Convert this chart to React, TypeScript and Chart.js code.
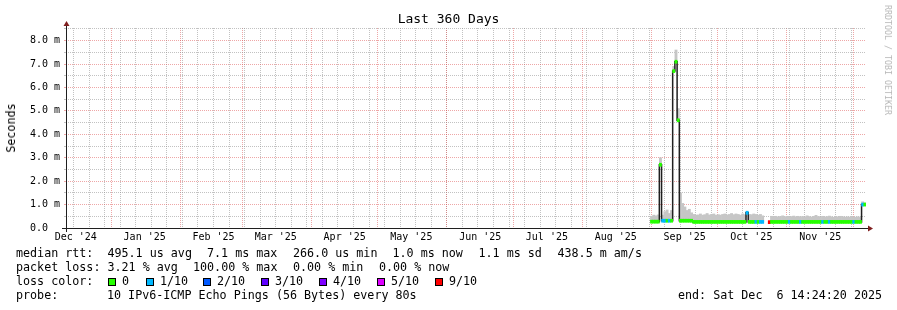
import React, { useEffect, useRef } from "react";
import { Chart, registerables } from "chart.js";

Chart.register(...registerables);

// ---------- texts ----------
const TITLE = "Last 360 Days";
const Y_AXIS_TITLE = "Seconds";
const WATERMARK = "RRDTOOL / TOBI OETIKER";

// ---------- time axis ----------
const END_TIME = "2025-12-06T14:24:20Z";
const RANGE_DAYS = 360;
const DAY_MS = 86400000;
const START_MS = Date.parse(END_TIME) - RANGE_DAYS * DAY_MS;

const MONTH_STARTS = [
  "2024-12-01", "2025-01-01", "2025-02-01", "2025-03-01", "2025-04-01", "2025-05-01", "2025-06-01",
  "2025-07-01", "2025-08-01", "2025-09-01", "2025-10-01", "2025-11-01", "2025-12-01",
];
const MONTH_LABELS = [
  "Dec '24", "Jan '25", "Feb '25", "Mar '25", "Apr '25", "May '25", "Jun '25",
  "Jul '25", "Aug '25", "Sep '25", "Oct '25", "Nov '25", "Dec '25",
];
const LABEL_SHIFT_DAYS = 15;
const FIRST_WEEK_START = "2024-12-15";
const WEEK_DAYS = 7;

// ---------- value axis (milliseconds) ----------
const Y_MAX_MS = 8.54;
const Y_GRID_MS = [0, 0.5, 1, 1.5, 2, 2.5, 3, 3.5, 4, 4.5, 5, 5.5, 6, 6.5, 7, 7.5, 8, 8.5];

// ---------- data (one value per day, from day DATA_START_DAY of the 360-day window) ----------
const DATA_START_DAY = 263;
const MEDIAN_MS = [
  0.27, 0.27, 0.27, 0.27, 2.7, 0.31, 0.31, 0.31, 0.31, 0.31,
  6.7, 7.1, 4.6, 0.31, 0.31, 0.31, 0.31, 0.31, 0.31, 0.26,
  0.26, 0.26, 0.26, 0.26, 0.26, 0.26, 0.26, 0.26, 0.26, 0.26,
  0.26, 0.26, 0.26, 0.26, 0.26, 0.26, 0.26, 0.26, 0.26, 0.26,
  0.26, 0.26, 0.26, 0.65, 0.26, 0.26, 0.26, 0.26, 0.26, 0.26,
  0.26, null, null, 0.25, 0.26, 0.26, 0.26, 0.26, 0.26, 0.26,
  0.26, 0.26, 0.26, 0.26, 0.26, 0.26, 0.26, 0.26, 0.26, 0.26,
  0.26, 0.26, 0.26, 0.26, 0.26, 0.26, 0.26, 0.26, 0.26, 0.26,
  0.26, 0.26, 0.26, 0.26, 0.26, 0.26, 0.26, 0.26, 0.26, 0.26,
  0.26, 0.26, 0.26, 0.26, 0.26, 1.0, 1.0,
];
const LOSS_OF_10 = [
  0, 0, 0, 0, 0, 1, 1, 0, 1, 0,
  0, 0, 0, 0, 0, 0, 0, 0, 0, 0,
  0, 0, 0, 0, 0, 0, 0, 0, 0, 0,
  0, 0, 0, 0, 0, 0, 0, 0, 0, 0,
  0, 0, 0, 1, 0, 0, 0, 1, 0, 1,
  1, null, null, 9, 0, 0, 0, 0, 0, 0,
  0, 0, 1, 0, 0, 0, 0, 1, 0, 0,
  0, 0, 0, 0, 0, 0, 0, 1, 0, 0,
  1, 0, 0, 0, 0, 0, 0, 0, 0, 0,
  0, 1, 0, 0, 0, 1, 0,
];
const SMOKE_MAX_MS = [
  0.5, 0.55, 0.52, 0.56, 3.0, 0.55, 0.7, 0.77, 0.62, 0.75,
  6.9, 7.6, 5.1, 1.5, 1.05, 0.9, 0.75, 0.8, 0.65, 0.58,
  0.55, 0.56, 0.6, 0.55, 0.57, 0.62, 0.56, 0.58, 0.6, 0.55,
  0.57, 0.55, 0.58, 0.6, 0.56, 0.58, 0.62, 0.57, 0.6, 0.58,
  0.55, 0.6, 0.57, 0.72, 0.58, 0.57, 0.6, 0.58, 0.55, 0.58,
  0.52, null, null, null, 0.5, 0.48, 0.5, 0.47, 0.49, 0.52,
  0.48, 0.5, 0.47, 0.49, 0.51, 0.48, 0.5, 0.47, 0.49, 0.48,
  0.52, 0.49, 0.47, 0.5, 0.54, 0.49, 0.48, 0.5, 0.47, 0.49,
  0.51, 0.48, 0.46, 0.49, 0.47, 0.5, 0.48, 0.46, 0.48, 0.47,
  0.49, 0.47, 0.46, 0.48, 0.45, 1.12, 1.08,
];
const MEDIAN_BAND_MS = 0.065;

// ---------- legend ----------
const LOSS_KEYS = [0, 1, 2, 3, 4, 5, 9];
const LOSS_LABELS = ["0", "1/10", "2/10", "3/10", "4/10", "5/10", "9/10"];
const LOSS_COLORS = ["#26ff00", "#00b8ff", "#0059ff", "#5e00ff", "#7e00ff", "#dd00ff", "#ff0000"];
const MEDIAN_STATS = ["median rtt:  495.1 us avg", "7.1 ms max", "266.0 us min", "1.0 ms now", "1.1 ms sd", "438.5 m am/s"];
const LOSS_STATS = ["packet loss: 3.21 % avg", "100.00 % max", "0.00 % min", "0.00 % now"];
const LOSS_COLOR_TITLE = "loss color:";
const PROBE_TITLE = "probe:";
const PROBE_TEXT = "10 IPv6-ICMP Echo Pings (56 Bytes) every 80s";
const END_TEXT = "end: Sat Dec  6 14:24:20 2025";

// ---------- styles ----------
const MONO = "'DejaVu Sans Mono', monospace";
const GRID_MINOR = "rgba(143,143,143,0.55)";
const GRID_MAJOR = "rgba(222,79,79,0.5)";
const AXIS_COLOR = "#1f1f1f";
const ARROW_COLOR = "#801f1f";
const SMOKE_COLOR = "#c6c6c6";
const MEDIAN_LINE_COLOR = "#202020";

const rrdAxesPlugin = {
  id: "rrdAxes",
  afterDatasetsDraw(chart: any) {
    const { ctx, chartArea: a } = chart;
    const x0 = Math.round(a.left);
    const x1 = Math.round(a.right);
    const y0 = Math.round(a.bottom);
    const yt = Math.round(a.top);
    ctx.save();
    ctx.strokeStyle = AXIS_COLOR;
    ctx.lineWidth = 1;
    ctx.beginPath();
    ctx.moveTo(x0 - 4, y0 + 0.5);
    ctx.lineTo(x1 + 4, y0 + 0.5);
    ctx.moveTo(x0 + 0.5, y0 + 4);
    ctx.lineTo(x0 + 0.5, yt - 4);
    ctx.stroke();
    ctx.fillStyle = ARROW_COLOR;
    ctx.beginPath();
    ctx.moveTo(x1 + 2, y0 - 3 + 0.5);
    ctx.lineTo(x1 + 2, y0 + 3 + 0.5);
    ctx.lineTo(x1 + 7, y0 + 0.5);
    ctx.closePath();
    ctx.fill();
    ctx.beginPath();
    ctx.moveTo(x0 - 3 + 0.5, yt - 2);
    ctx.lineTo(x0 + 3 + 0.5, yt - 2);
    ctx.lineTo(x0 + 0.5, yt - 7);
    ctx.closePath();
    ctx.fill();
    ctx.restore();
  },
};

export default function App() {
  const ref = useRef<HTMLCanvasElement>(null);

  useEffect(() => {
    const canvas = ref.current;
    if (!canvas) return;
    const dayOf = (iso: string) => (Date.parse(iso) - START_MS) / DAY_MS;
    const inRange = (d: number) => d >= 0 && d <= RANGE_DAYS;

    const monthLines = MONTH_STARTS.map(dayOf).filter(inRange);
    const labelTicks = MONTH_STARTS.map((m, i) => ({ value: dayOf(m) + LABEL_SHIFT_DAYS, label: MONTH_LABELS[i] })).filter((t) =>
      inRange(t.value)
    );
    const weekLines: number[] = [];
    for (let d = dayOf(FIRST_WEEK_START); d <= RANGE_DAYS; d += WEEK_DAYS) weekLines.push(d);

    const colorFor = (l: number | null) => (l == null ? "rgba(0,0,0,0)" : LOSS_COLORS[LOSS_KEYS.indexOf(l)] || LOSS_COLORS[0]);
    const xOf = (i: number) => DATA_START_DAY + i + 0.5;

    const bandData = MEDIAN_MS.map((m, i) => ({ x: xOf(i), y: m == null ? null : [m - MEDIAN_BAND_MS, m + MEDIAN_BAND_MS] }));
    const lineData = MEDIAN_MS.map((m, i) => ({ x: xOf(i), y: m }));
    const smokeData = SMOKE_MAX_MS.map((s, i) => ({ x: xOf(i), y: s == null || MEDIAN_MS[i] == null ? null : [MEDIAN_MS[i] as number, s] }));

    const gridOnlyAxis = (values: number[], color: string) => ({
      type: "linear",
      position: "bottom",
      min: 0,
      max: RANGE_DAYS,
      offset: false,
      afterBuildTicks: (s: any) => {
        s.ticks = values.map((v) => ({ value: v }));
      },
      afterFit: (s: any) => {
        s.height = 0;
      },
      ticks: { display: false, autoSkip: false },
      grid: { display: true, drawOnChartArea: true, drawTicks: false, offset: false, color, lineWidth: 1 },
      border: { display: false, dash: [1, 1] },
    });

    const chart = new Chart(canvas, {
      type: "bar",
      data: {
        datasets: [
          {
            type: "bar",
            label: "median",
            data: bandData as any,
            backgroundColor: LOSS_OF_10.map(colorFor),
            borderWidth: 0,
            barPercentage: 1,
            categoryPercentage: 1,
            grouped: false,
            order: 0,
          },
          {
            type: "line",
            label: "median line",
            data: lineData as any,
            stepped: "middle",
            borderColor: MEDIAN_LINE_COLOR,
            borderWidth: 1.5,
            pointRadius: 0,
            spanGaps: false,
            fill: false,
            order: 1,
          },
          {
            type: "bar",
            label: "smoke",
            data: smokeData as any,
            backgroundColor: SMOKE_COLOR,
            borderWidth: 0,
            barPercentage: 1,
            categoryPercentage: 1,
            grouped: false,
            order: 2,
          },
        ],
      },
      options: {
        animation: false,
        responsive: false,
        devicePixelRatio: 1,
        events: [],
        layout: { padding: { left: 0, top: 28, right: 31, bottom: 0 } },
        plugins: { legend: { display: false }, tooltip: { enabled: false }, title: { display: false } },
        scales: {
          x: {
            type: "linear",
            position: "bottom",
            min: 0,
            max: RANGE_DAYS,
            offset: false,
            afterBuildTicks: (s: any) => {
              s.ticks = labelTicks.map((t) => ({ value: t.value }));
            },
            afterFit: (s: any) => {
              s.height = 82;
            },
            ticks: {
              autoSkip: false,
              maxRotation: 0,
              padding: 3,
              color: "#000",
              font: { family: MONO, size: 10 },
              callback: (_v: any, i: number) => labelTicks[i]?.label ?? "",
            },
            grid: { display: false, drawTicks: false, offset: false },
            border: { display: false },
          },
          xWeek: gridOnlyAxis(weekLines, GRID_MINOR) as any,
          xMonth: gridOnlyAxis(monthLines, GRID_MAJOR) as any,
          y: {
            type: "linear",
            position: "left",
            min: 0,
            max: Y_MAX_MS,
            afterBuildTicks: (s: any) => {
              s.ticks = Y_GRID_MS.map((v) => ({ value: v }));
            },
            afterFit: (s: any) => {
              s.width = 66;
            },
            ticks: {
              autoSkip: false,
              padding: 4,
              color: "#000",
              font: { family: MONO, size: 10 },
              callback: (v: any) => {
                const n = Number(v);
                if (!Number.isInteger(n)) return "";
                return n === 0 ? "0.0  " : n.toFixed(1) + " m";
              },
            },
            grid: {
              display: true,
              lineWidth: 1,
              color: (c: any) => (Number.isInteger(c.tick?.value) ? GRID_MAJOR : GRID_MINOR),
              drawTicks: true,
              tickLength: 2,
              tickColor: (c: any) => (Number.isInteger(c.tick?.value) ? GRID_MAJOR : GRID_MINOR),
              tickBorderDash: [],
            },
            border: { display: false, dash: [1, 1] },
          },
        },
      } as any,
      plugins: [rrdAxesPlugin],
    });
    return () => chart.destroy();
  }, []);

  const text = (left: number, top: number, s: string, key?: string) => (
    <div
      key={key}
      style={{
        position: "absolute",
        left,
        top,
        fontFamily: MONO,
        fontSize: "11.7px",
        lineHeight: "14px",
        whiteSpace: "pre",
        color: "#000",
      }}
    >
      {s}
    </div>
  );

  const medianX = [16, 207, 293, 392.5, 478.5, 557.5];
  const lossX = [16, 193, 293, 379];
  const squareX = [108, 146, 203, 261, 319, 377, 435];

  return (
    <div
      style={{
        position: "fixed",
        left: 0,
        top: 0,
        width: 897,
        height: 310,
        background: "#fff",
        overflow: "hidden",
      }}
    >
      <canvas ref={ref} width={897} height={310} style={{ position: "absolute", left: 0, top: 0, width: 897, height: 310 }} />
      <div
        style={{
          position: "absolute",
          left: 0,
          top: 11,
          width: 897,
          textAlign: "center",
          fontFamily: MONO,
          fontSize: "13px",
          lineHeight: "16px",
          whiteSpace: "pre",
          color: "#000",
        }}
      >
        {TITLE}
      </div>
      <div
        style={{
          position: "absolute",
          left: 11,
          top: 128,
          transform: "translate(-50%, -50%) rotate(-90deg)",
          fontFamily: MONO,
          fontSize: "11.7px",
          lineHeight: "14px",
          whiteSpace: "pre",
          color: "#000",
        }}
      >
        {Y_AXIS_TITLE}
      </div>
      <div
        style={{
          position: "absolute",
          left: 887.5,
          top: 60,
          transform: "translate(-50%, -50%) rotate(90deg)",
          fontFamily: MONO,
          fontSize: "8.3px",
          lineHeight: "10px",
          whiteSpace: "pre",
          color: "#b8b8b8",
        }}
      >
        {WATERMARK}
      </div>
      {MEDIAN_STATS.map((s, i) => text(medianX[i], 246, s, "m" + i))}
      {LOSS_STATS.map((s, i) => text(lossX[i], 260, s, "l" + i))}
      {text(16, 274, LOSS_COLOR_TITLE)}
      {LOSS_LABELS.map((lab, i) => (
        <React.Fragment key={"lc" + i}>
          <div
            style={{
              position: "absolute",
              left: squareX[i],
              top: 278,
              width: 8,
              height: 8,
              boxSizing: "border-box",
              border: "1px solid #000",
              background: LOSS_COLORS[i],
            }}
          />
          {text(squareX[i] + 14, 274, lab)}
        </React.Fragment>
      ))}
      {text(16, 288, PROBE_TITLE)}
      {text(107, 288, PROBE_TEXT)}
      {text(678, 288, END_TEXT)}
    </div>
  );
}
